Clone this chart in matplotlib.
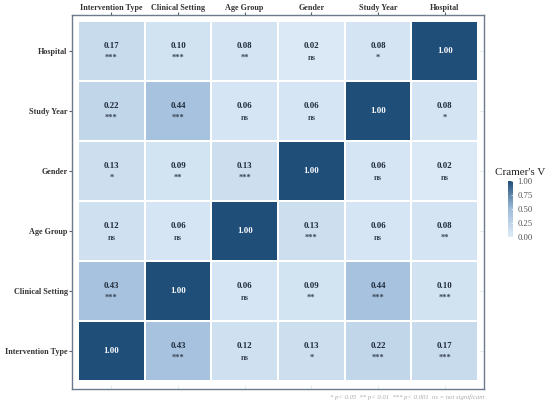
import numpy as np
import matplotlib
matplotlib.use("Agg")
import matplotlib.pyplot as plt
from matplotlib.colors import LinearSegmentedColormap

# ---- data ----
col_labels = ["Intervention Type", "Clinical Setting", "Age Group", "Gender", "Study Year", "Hospital"]
row_labels = ["Hospital", "Study Year", "Gender", "Age Group", "Clinical Setting", "Intervention Type"]  # top to bottom

values = [
    [0.17, 0.10, 0.08, 0.02, 0.08, 1.00],
    [0.22, 0.44, 0.06, 0.06, 1.00, 0.08],
    [0.13, 0.09, 0.13, 1.00, 0.06, 0.02],
    [0.12, 0.06, 1.00, 0.13, 0.06, 0.08],
    [0.43, 1.00, 0.06, 0.09, 0.44, 0.10],
    [1.00, 0.43, 0.12, 0.13, 0.22, 0.17],
]
signif = [
    ["***", "***", "**", "ns", "*", ""],
    ["***", "***", "ns", "ns", "", "*"],
    ["*", "**", "***", "", "ns", "ns"],
    ["ns", "ns", "", "***", "ns", "**"],
    ["***", "", "ns", "**", "***", "***"],
    ["", "***", "ns", "*", "***", "***"],
]

plt.rcParams['font.family'] = ['Liberation Serif', 'DejaVu Serif']

cmap = LinearSegmentedColormap.from_list(
    "cv", [(0.0, "#deebf7"), (0.5, "#9ebcda"), (1.0, "#1f4e79")])

fig = plt.figure(figsize=(5.5, 4.04), dpi=100)
W, H = 550, 404
fl, fr, ft, fb = 72, 484, 15, 389
ax = fig.add_axes([fl / W, 1 - fb / H, (fr - fl) / W, (fb - ft) / H])

nr, nc = len(row_labels), len(col_labels)
Z = np.array(values)[::-1]
S = [r for r in signif[::-1]]
ylabels_bottom_up = row_labels[::-1]

xe = np.arange(nc + 1) - 0.5
ye = np.arange(nr + 1) - 0.5
ax.pcolormesh(xe, ye, Z, cmap=cmap, vmin=0, vmax=1, edgecolor="white", linewidth=1.2)

for i in range(nr):
    for j in range(nc):
        v = Z[i, j]
        s = S[i][j]
        tc = "white" if v > 0.7 else "#1e2a3a"
        if s == "":
            ax.text(j, i, f"{v:.2f}", ha="center", va="center", fontsize=6.3,
                    fontweight="bold", color=tc)
        else:
            ax.text(j, i + 0.08, f"{v:.2f}", ha="center", va="center", fontsize=6.3,
                    fontweight="bold", color=tc)
            ax.text(j, i - 0.12, s, ha="center", va="center", fontsize=6.0,
                    fontweight="bold", color="#3a4656")

ax.set_xlim(-0.5 - 0.09, nc - 0.5 + 0.09)
ax.set_ylim(-0.5 - 0.133, nr - 0.5 + 0.1)

ax.xaxis.tick_top()
ax.set_xticks(range(nc))
ax.set_xticklabels(col_labels, fontsize=5.85, fontweight="bold", color="#333333")
ax.set_yticks(range(nr))
ax.set_yticklabels(ylabels_bottom_up, fontsize=5.85, fontweight="bold", color="#333333")
ax.tick_params(axis="both", length=2.2, width=0.8, color="#556070", pad=1.0)
ax.tick_params(axis="x", pad=0.3)

for sp in ax.spines.values():
    sp.set_color("#6b7a8c")
    sp.set_linewidth(1.0)

# faint inner ticks at bottom and right
sx = ax.secondary_xaxis("bottom")
sx.set_xticks(range(nc))
sx.set_xticklabels([])
sx.tick_params(direction="in", length=3, color="#dfe6ee", width=0.6)
sx.spines["bottom"].set_visible(False)
sy = ax.secondary_yaxis("right")
sy.set_yticks(range(nr))
sy.set_yticklabels([])
sy.tick_params(direction="in", length=3, color="#dfe6ee", width=0.6)
sy.spines["right"].set_visible(False)

# colorbar
cax = fig.add_axes([508 / W, 1 - 237 / H, 5 / W, 56 / H])
sm = matplotlib.cm.ScalarMappable(cmap=cmap, norm=plt.Normalize(0, 1))
cb = fig.colorbar(sm, cax=cax, ticks=[0, 0.25, 0.5, 0.75, 1.0])
cb.ax.set_yticklabels(["0.00", "0.25", "0.50", "0.75", "1.00"], fontsize=6.2, color="#555555")
cb.ax.tick_params(length=1.5, width=0.5, color="white", direction="in", pad=3)
cb.outline.set_visible(False)
fig.text(520 / W, 1 - 173 / H, "Cramer's V", fontsize=8, color="#222222",
         ha="center", va="center")

fig.text(fr / W, 1 - 397 / H,
         "* p< 0.05  ** p< 0.01  *** p< 0.001  ns = not significant",
         fontsize=4.8, style="italic", color="#aaaaaa", ha="right", va="center")

fig.savefig("out.png", dpi=100, facecolor="white")
